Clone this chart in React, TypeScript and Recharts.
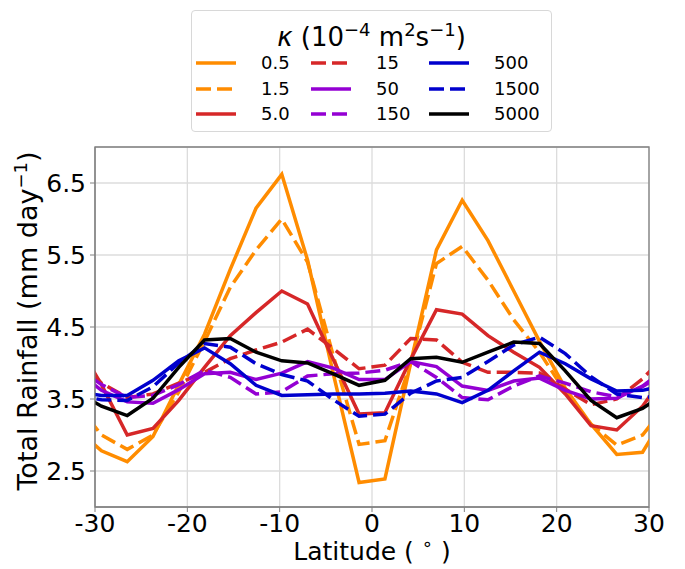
import React from 'react';
import { LineChart, Line, XAxis, YAxis, CartesianGrid, ReferenceArea } from 'recharts';

// Gaussian-grid latitudes (deg); the outer two sit just past the ±30 limits
const latitudes = [-32.09, -29.3, -26.51, -23.72, -20.93, -18.14, -15.35, -12.56, -9.77, -6.98, -4.19, -1.4,
  1.4, 4.19, 6.98, 9.77, 12.56, 15.35, 18.14, 20.93, 23.72, 26.51, 29.3, 32.09];

const rain0_5 = [3.1, 2.78, 2.63, 2.98, 3.7, 4.4, 5.3, 6.15, 6.62, 5.43, 3.85, 2.34, 2.39, 4.0, 5.57, 6.26, 5.7, 5.0, 4.3, 3.65, 3.15, 2.73, 2.76, 3.35];
const rain1_5 = [3.45, 3.0, 2.8, 3.0, 3.6, 4.3, 5.05, 5.57, 6.0, 5.4, 4.1, 2.87, 2.92, 4.0, 5.38, 5.62, 5.15, 4.6, 4.15, 3.6, 3.15, 2.86, 3.0, 3.45];
const rain5 = [4.3, 3.7, 3.0, 3.09, 3.48, 3.94, 4.38, 4.7, 5.0, 4.82, 4.05, 3.29, 3.31, 4.05, 4.74, 4.68, 4.38, 4.15, 3.94, 3.57, 3.13, 3.07, 3.4, 3.9];
const rain15 = [4.05, 3.72, 3.52, 3.57, 3.72, 3.87, 4.06, 4.18, 4.29, 4.47, 4.2, 3.92, 3.97, 4.34, 4.32, 4.01, 3.87, 3.87, 3.86, 3.64, 3.42, 3.5, 3.78, 4.15];
const rain50 = [3.9, 3.62, 3.46, 3.44, 3.63, 3.85, 3.87, 3.77, 3.86, 4.02, 3.93, 3.77, 3.77, 4.02, 3.95, 3.68, 3.62, 3.75, 3.79, 3.62, 3.5, 3.51, 3.68, 3.95];
const rain150 = [3.95, 3.7, 3.52, 3.55, 3.7, 3.9, 3.8, 3.57, 3.6, 3.82, 3.85, 3.86, 3.9, 4.02, 3.8, 3.52, 3.49, 3.68, 3.82, 3.72, 3.6, 3.53, 3.67, 3.9];
const rain500 = [3.6, 3.55, 3.55, 3.76, 4.03, 4.21, 3.99, 3.69, 3.55, 3.56, 3.57, 3.57, 3.58, 3.61, 3.57, 3.45, 3.62, 3.89, 4.15, 3.99, 3.78, 3.61, 3.62, 3.7];
const rain1500 = [3.55, 3.49, 3.48, 3.67, 4.0, 4.27, 4.22, 3.99, 3.84, 3.75, 3.49, 3.26, 3.29, 3.58, 3.75, 3.8, 4.02, 4.25, 4.36, 4.13, 3.81, 3.57, 3.52, 3.55];
const rain5000 = [3.6, 3.4, 3.27, 3.51, 3.94, 4.32, 4.34, 4.15, 4.03, 4.0, 3.85, 3.69, 3.76, 4.06, 4.08, 4.01, 4.15, 4.29, 4.27, 3.89, 3.48, 3.24, 3.37, 3.6];

const xTicks = [-30, -20, -10, 0, 10, 20, 30];
const yTicks = [2.5, 3.5, 4.5, 5.5, 6.5];

const series = [
  { key: 'k0_5', label: '0.5', values: rain0_5, color: '#ff8c00', dashed: false },
  { key: 'k1_5', label: '1.5', values: rain1_5, color: '#ff8c00', dashed: true },
  { key: 'k5', label: '5.0', values: rain5, color: '#d62728', dashed: false },
  { key: 'k15', label: '15', values: rain15, color: '#d62728', dashed: true },
  { key: 'k50', label: '50', values: rain50, color: '#9400d3', dashed: false },
  { key: 'k150', label: '150', values: rain150, color: '#9400d3', dashed: true },
  { key: 'k500', label: '500', values: rain500, color: '#0000cd', dashed: false },
  { key: 'k1500', label: '1500', values: rain1500, color: '#0000cd', dashed: true },
  { key: 'k5000', label: '5000', values: rain5000, color: '#000000', dashed: false },
];

const data = latitudes.map((lat, i) => {
  const row: { [key: string]: number } = { lat };
  series.forEach(s => { row[s.key] = s.values[i]; });
  return row;
});

const FONT = '"DejaVu Sans", sans-serif';
const DASH = '15 6';
const SPINE = '#808080';

const YLabel = ({ viewBox }: any) => {
  const cx = 29;
  const cy = viewBox.y + viewBox.height / 2 - 6;
  return (
    <text transform={`translate(${cx},${cy}) rotate(-90)`} textAnchor="middle" fontSize={27} fontFamily={FONT} fill="#000">
      Total Rainfall (mm day<tspan dy={-10} fontSize={18}>−1</tspan><tspan dy={10}>)</tspan>
    </text>
  );
};

const XLabel = ({ viewBox }: any) => {
  const cx = viewBox.x + viewBox.width / 2;
  return (
    <text x={cx} y={552} textAnchor="middle" fontSize={25} fontFamily={FONT} fill="#000">
      Latitude ( <tspan dy={-10} fontSize={18}>∘</tspan><tspan dy={10}> )</tspan>
    </text>
  );
};

const Swatch = ({ color, dashed }: { color: string; dashed: boolean }) => (
  <svg width={40} height={8} style={{ display: 'block' }}>
    <line x1={0} y1={4} x2={40} y2={4} stroke={color} strokeWidth={3.5} strokeDasharray={dashed ? DASH : undefined} />
  </svg>
);

const LegendBox = () => {
  const colSwatch = [4, 119, 237];
  const colLabel = [69, 184, 302];
  const rowY = [52, 78, 103];
  return (
    <div style={{ position: 'absolute', left: 183, top: 2, width: 361, height: 122, border: '1px solid #d8d8d8', borderRadius: 4, boxSizing: 'border-box', background: '#fff', fontFamily: FONT }}>
      <div style={{ position: 'absolute', left: 0, width: '100%', top: 3, textAlign: 'center', fontSize: 26, lineHeight: '32px' }}>
        <i>κ</i> (10<sup style={{ fontSize: 18 }}>−4</sup> m<sup style={{ fontSize: 18 }}>2</sup>s<sup style={{ fontSize: 18 }}>−1</sup>)
      </div>
      {series.map((s, i) => {
        const col = Math.floor(i / 3);
        const row = i % 3;
        return (
          <React.Fragment key={s.key}>
            <div style={{ position: 'absolute', left: colSwatch[col], top: rowY[row] - 4 }}>
              <Swatch color={s.color} dashed={s.dashed} />
            </div>
            <div style={{ position: 'absolute', left: colLabel[col], top: rowY[row] - 11, fontSize: 18, lineHeight: '22px' }}>{s.label}</div>
          </React.Fragment>
        );
      })}
    </div>
  );
};

export default function App() {
  return (
    <div style={{ position: 'relative', width: 669, height: 561 }}>
      <LineChart width={669} height={561} data={data} margin={{ top: 139, right: 28, left: 0, bottom: 0 }}>
        <CartesianGrid stroke="#dcdcdc" strokeWidth={1.3} />
        <XAxis
          dataKey="lat"
          type="number"
          domain={[-30, 30]}
          ticks={xTicks}
          allowDataOverflow
          height={62}
          tickSize={5}
          tickMargin={2}
          stroke={SPINE}
          tick={{ fontSize: 25, fontFamily: FONT, fill: '#000' }}
          label={<XLabel />}
        />
        <YAxis
          type="number"
          domain={[2, 7]}
          ticks={yTicks}
          allowDataOverflow
          width={87}
          tickSize={5}
          tickMargin={4}
          stroke={SPINE}
          tick={{ fontSize: 25, fontFamily: FONT, fill: '#000' }}
          label={<YLabel />}
        />
        <ReferenceArea x1={-30} x2={30} y1={2} y2={7} fill="none" stroke={SPINE} strokeWidth={1.3} />
        {series.map(s => (
          <Line
            key={s.key}
            type="linear"
            dataKey={s.key}
            stroke={s.color}
            strokeWidth={3.5}
            strokeDasharray={s.dashed ? DASH : undefined}
            dot={false}
            isAnimationActive={false}
          />
        ))}
      </LineChart>
      <LegendBox />
    </div>
  );
}
